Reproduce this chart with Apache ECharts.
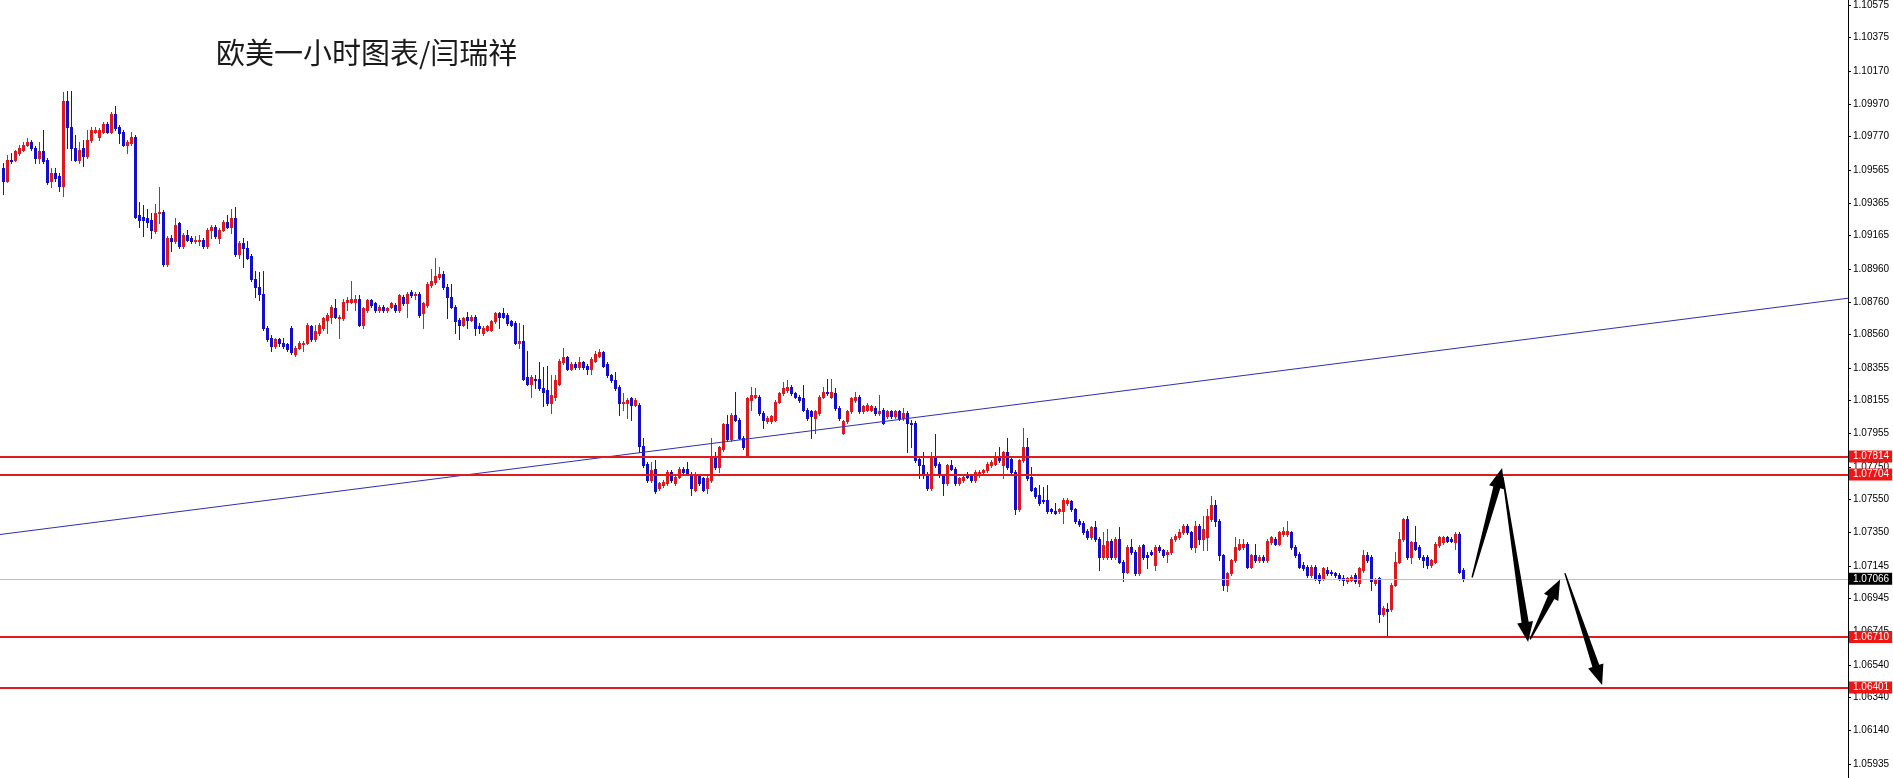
<!DOCTYPE html>
<html>
<head>
<meta charset="utf-8">
<script src="https://cdn.jsdelivr.net/npm/echarts@6/dist/echarts.min.js"></script>
<style>html,body{margin:0;padding:0;background:#fff;}#c{width:1893px;height:778px;}</style>
</head>
<body>
<div id="c"></div>
<script>
// EURUSD H1 candles: [open, close, low, high]
const ohlc = [
[1.0958,1.0950,1.0942,1.0961],[1.0950,1.0963,1.0949,1.0966],[1.0963,1.0962,1.0961,1.0967],[1.0963,1.0968,1.0962,1.0969],
[1.0967,1.0970,1.0966,1.0972],[1.0969,1.0972,1.0968,1.0974],[1.0972,1.0974,1.0971,1.0976],[1.0974,1.0970,1.0969,1.0975],
[1.0970,1.0964,1.0961,1.0971],[1.0964,1.0968,1.0961,1.0974],[1.0968,1.0962,1.0961,1.0981],[1.0963,1.0949,1.0948,1.0964],
[1.0950,1.0955,1.0946,1.0958],[1.0955,1.0952,1.0950,1.0958],[1.0953,1.0947,1.0944,1.0955],[1.0947,1.0999,1.0941,1.1004],
[1.0999,1.0983,1.0970,1.1005],[1.0983,1.0970,1.0963,1.1005],[1.0970,1.0963,1.0962,1.0978],[1.0963,1.0969,1.0961,1.0974],
[1.0970,1.0965,1.0959,1.0975],[1.0965,1.0975,1.0964,1.0981],[1.0975,1.0981,1.0974,1.0983],[1.0980,1.0981,1.0979,1.0983],
[1.0977,1.0981,1.0975,1.0982],[1.0980,1.0985,1.0979,1.0986],[1.0985,1.0980,1.0979,1.0986],[1.0980,1.0991,1.0979,1.0992],
[1.0991,1.0982,1.0981,1.0996],[1.0983,1.0979,1.0973,1.0984],[1.0980,1.0972,1.0971,1.0981],[1.0972,1.0974,1.0967,1.0975],
[1.0973,1.0977,1.0972,1.0980],[1.0977,1.0928,1.0927,1.0978],[1.0929,1.0926,1.0922,1.0937],[1.0928,1.0926,1.0916,1.0935],
[1.0927,1.0925,1.0922,1.0933],[1.0926,1.0920,1.0915,1.0930],[1.0919,1.0930,1.0918,1.0936],[1.0930,1.0931,1.0924,1.0946],
[1.0931,1.0899,1.0898,1.0932],[1.0899,1.0915,1.0898,1.0916],[1.0915,1.0913,1.0907,1.0917],[1.0913,1.0923,1.0912,1.0927],
[1.0924,1.0910,1.0909,1.0925],[1.0910,1.0917,1.0909,1.0918],[1.0917,1.0914,1.0913,1.0920],[1.0915,1.0913,1.0912,1.0916],
[1.0913,1.0914,1.0912,1.0916],[1.0913,1.0914,1.0911,1.0917],[1.0914,1.0910,1.0909,1.0915],[1.0910,1.0920,1.0909,1.0921],
[1.0920,1.0922,1.0915,1.0923],[1.0922,1.0916,1.0915,1.0923],[1.0915,1.0920,1.0912,1.0921],[1.0920,1.0925,1.0919,1.0926],
[1.0925,1.0922,1.0921,1.0929],[1.0922,1.0927,1.0918,1.0933],[1.0927,1.0905,1.0904,1.0934],[1.0905,1.0912,1.0903,1.0913],
[1.0912,1.0909,1.0897,1.0915],[1.0909,1.0903,1.0902,1.0913],[1.0904,1.0890,1.0889,1.0905],[1.0890,1.0885,1.0879,1.0895],
[1.0885,1.0881,1.0877,1.0894],[1.0881,1.0860,1.0859,1.0895],[1.0860,1.0853,1.0852,1.0861],[1.0854,1.0849,1.0846,1.0856],
[1.0849,1.0853,1.0848,1.0854],[1.0853,1.0851,1.0849,1.0854],[1.0851,1.0849,1.0848,1.0854],[1.0850,1.0847,1.0846,1.0851],
[1.0860,1.0845,1.0844,1.0861],[1.0844,1.0848,1.0843,1.0849],[1.0848,1.0851,1.0847,1.0852],[1.0850,1.0851,1.0846,1.0852],
[1.0851,1.0862,1.0850,1.0863],[1.0861,1.0853,1.0852,1.0862],[1.0853,1.0858,1.0852,1.0862],[1.0857,1.0862,1.0856,1.0863],
[1.0860,1.0866,1.0859,1.0867],[1.0865,1.0868,1.0857,1.0869],[1.0867,1.0873,1.0863,1.0874],[1.0872,1.0867,1.0866,1.0878],
[1.0866,1.0867,1.0854,1.0868],[1.0866,1.0876,1.0865,1.0878],[1.0876,1.0877,1.0871,1.0879],[1.0876,1.0878,1.0875,1.0889],
[1.0876,1.0878,1.0871,1.0880],[1.0878,1.0862,1.0861,1.0880],[1.0862,1.0872,1.0860,1.0873],[1.0871,1.0877,1.0870,1.0878],
[1.0877,1.0874,1.0873,1.0878],[1.0875,1.0871,1.0870,1.0876],[1.0871,1.0873,1.0870,1.0874],[1.0873,1.0871,1.0870,1.0874],
[1.0871,1.0872,1.0870,1.0873],[1.0873,1.0875,1.0872,1.0876],[1.0874,1.0871,1.0870,1.0875],[1.0871,1.0880,1.0870,1.0881],
[1.0879,1.0875,1.0874,1.0880],[1.0875,1.0881,1.0867,1.0882],[1.0882,1.0880,1.0879,1.0883],[1.0880,1.0881,1.0878,1.0882],
[1.0881,1.0868,1.0867,1.0882],[1.0869,1.0875,1.0860,1.0876],[1.0874,1.0887,1.0873,1.0888],[1.0886,1.0889,1.0885,1.0896],
[1.0888,1.0892,1.0887,1.0903],[1.0891,1.0893,1.0890,1.0897],[1.0893,1.0885,1.0884,1.0895],[1.0885,1.0879,1.0866,1.0887],
[1.0879,1.0873,1.0872,1.0887],[1.0873,1.0864,1.0857,1.0874],[1.0865,1.0862,1.0853,1.0866],[1.0862,1.0866,1.0861,1.0867],
[1.0867,1.0865,1.0860,1.0870],[1.0865,1.0867,1.0864,1.0868],[1.0867,1.0860,1.0856,1.0868],[1.0861,1.0860,1.0857,1.0863],
[1.0857,1.0860,1.0856,1.0861],[1.0859,1.0861,1.0858,1.0862],[1.0859,1.0864,1.0858,1.0865],[1.0864,1.0869,1.0863,1.0870],
[1.0869,1.0867,1.0860,1.0870],[1.0869,1.0867,1.0866,1.0872],[1.0868,1.0863,1.0862,1.0869],[1.0864,1.0862,1.0861,1.0865],
[1.0863,1.0851,1.0850,1.0864],[1.0851,1.0852,1.0848,1.0863],[1.0852,1.0829,1.0828,1.0862],[1.0830,1.0826,1.0825,1.0846],
[1.0826,1.0830,1.0818,1.0831],[1.0829,1.0828,1.0823,1.0831],[1.0829,1.0823,1.0822,1.0839],[1.0823,1.0821,1.0812,1.0836],
[1.0822,1.0814,1.0813,1.0837],[1.0814,1.0819,1.0808,1.0831],[1.0818,1.0828,1.0816,1.0831],[1.0826,1.0840,1.0825,1.0841],
[1.0839,1.0842,1.0838,1.0848],[1.0842,1.0835,1.0834,1.0843],[1.0835,1.0838,1.0834,1.0839],[1.0838,1.0836,1.0835,1.0839],
[1.0836,1.0839,1.0835,1.0842],[1.0839,1.0836,1.0835,1.0840],[1.0837,1.0835,1.0832,1.0838],[1.0835,1.0841,1.0832,1.0842],
[1.0840,1.0844,1.0839,1.0846],[1.0843,1.0845,1.0842,1.0847],[1.0845,1.0837,1.0836,1.0846],[1.0838,1.0831,1.0830,1.0839],
[1.0831,1.0828,1.0827,1.0832],[1.0828,1.0823,1.0822,1.0833],[1.0824,1.0814,1.0807,1.0825],[1.0814,1.0815,1.0810,1.0820],
[1.0814,1.0816,1.0805,1.0817],[1.0817,1.0813,1.0804,1.0818],[1.0813,1.0816,1.0812,1.0817],[1.0813,1.0788,1.0784,1.0814],
[1.0788,1.0776,1.0775,1.0793],[1.0777,1.0767,1.0766,1.0778],[1.0767,1.0773,1.0766,1.0778],[1.0774,1.0760,1.0759,1.0779],
[1.0762,1.0765,1.0761,1.0766],[1.0764,1.0766,1.0763,1.0767],[1.0765,1.0772,1.0764,1.0773],[1.0772,1.0767,1.0766,1.0773],
[1.0765,1.0769,1.0764,1.0770],[1.0769,1.0774,1.0768,1.0775],[1.0774,1.0772,1.0771,1.0775],[1.0774,1.0771,1.0770,1.0778],
[1.0771,1.0762,1.0758,1.0772],[1.0761,1.0771,1.0760,1.0772],[1.0770,1.0765,1.0764,1.0771],[1.0768,1.0761,1.0760,1.0769],
[1.0762,1.0768,1.0759,1.0771],[1.0767,1.0781,1.0766,1.0793],[1.0781,1.0775,1.0774,1.0784],[1.0775,1.0787,1.0772,1.0788],
[1.0786,1.0801,1.0785,1.0802],[1.0801,1.0792,1.0791,1.0807],[1.0792,1.0807,1.0791,1.0808],[1.0807,1.0804,1.0803,1.0821],
[1.0804,1.0793,1.0792,1.0805],[1.0793,1.0787,1.0786,1.0794],[1.0782,1.0817,1.0781,1.0818],[1.0816,1.0819,1.0810,1.0824],
[1.0818,1.0819,1.0817,1.0823],[1.0818,1.0808,1.0807,1.0819],[1.0808,1.0804,1.0799,1.0809],[1.0803,1.0805,1.0802,1.0806],
[1.0803,1.0806,1.0802,1.0807],[1.0804,1.0815,1.0803,1.0816],[1.0815,1.0820,1.0814,1.0821],[1.0820,1.0823,1.0819,1.0827],
[1.0822,1.0824,1.0821,1.0828],[1.0824,1.0820,1.0819,1.0825],[1.0820,1.0818,1.0817,1.0821],[1.0818,1.0816,1.0815,1.0819],
[1.0817,1.0810,1.0809,1.0825],[1.0810,1.0805,1.0804,1.0811],[1.0809,1.0806,1.0793,1.0810],[1.0805,1.0809,1.0796,1.0810],
[1.0808,1.0818,1.0807,1.0819],[1.0818,1.0821,1.0817,1.0824],[1.0821,1.0820,1.0819,1.0829],[1.0818,1.0821,1.0817,1.0829],
[1.0820,1.0811,1.0810,1.0823],[1.0811,1.0805,1.0804,1.0812],[1.0796,1.0803,1.0795,1.0804],[1.0803,1.0809,1.0802,1.0810],
[1.0809,1.0817,1.0808,1.0818],[1.0816,1.0818,1.0815,1.0821],[1.0818,1.0809,1.0808,1.0819],[1.0809,1.0812,1.0808,1.0813],
[1.0810,1.0813,1.0809,1.0814],[1.0810,1.0812,1.0809,1.0813],[1.0811,1.0808,1.0807,1.0812],[1.0808,1.0809,1.0807,1.0819],
[1.0810,1.0802,1.0801,1.0811],[1.0806,1.0809,1.0805,1.0810],[1.0809,1.0806,1.0805,1.0810],[1.0806,1.0809,1.0805,1.0810],
[1.0809,1.0805,1.0804,1.0810],[1.0805,1.0808,1.0804,1.0811],[1.0808,1.0802,1.0784,1.0809],[1.0802,1.0801,1.0787,1.0804],
[1.0802,1.0779,1.0778,1.0803],[1.0780,1.0776,1.0768,1.0781],[1.0776,1.0771,1.0768,1.0784],[1.0771,1.0762,1.0761,1.0772],
[1.0762,1.0781,1.0761,1.0784],[1.0781,1.0776,1.0775,1.0795],[1.0777,1.0770,1.0769,1.0778],[1.0770,1.0765,1.0758,1.0771],
[1.0765,1.0776,1.0764,1.0777],[1.0776,1.0774,1.0773,1.0779],[1.0774,1.0765,1.0764,1.0775],[1.0765,1.0768,1.0764,1.0769],
[1.0767,1.0769,1.0766,1.0770],[1.0771,1.0769,1.0768,1.0772],[1.0770,1.0767,1.0766,1.0771],[1.0767,1.0772,1.0766,1.0773],
[1.0770,1.0772,1.0769,1.0773],[1.0772,1.0773,1.0771,1.0774],[1.0773,1.0777,1.0772,1.0778],[1.0776,1.0778,1.0775,1.0779],
[1.0777,1.0781,1.0776,1.0784],[1.0782,1.0779,1.0778,1.0787],[1.0776,1.0784,1.0768,1.0785],[1.0784,1.0775,1.0774,1.0793],
[1.0780,1.0772,1.0771,1.0781],[1.0772,1.0749,1.0746,1.0773],[1.0749,1.0779,1.0748,1.0780],[1.0779,1.0787,1.0778,1.0799],
[1.0787,1.0768,1.0767,1.0793],[1.0769,1.0761,1.0760,1.0775],[1.0762,1.0757,1.0756,1.0763],[1.0758,1.0753,1.0752,1.0764],
[1.0755,1.0754,1.0753,1.0763],[1.0755,1.0748,1.0747,1.0764],[1.0749,1.0748,1.0747,1.0750],[1.0748,1.0747,1.0746,1.0753],
[1.0748,1.0749,1.0747,1.0750],[1.0748,1.0755,1.0741,1.0756],[1.0753,1.0755,1.0752,1.0756],[1.0754,1.0749,1.0748,1.0755],
[1.0749,1.0742,1.0741,1.0750],[1.0742,1.0740,1.0739,1.0743],[1.0741,1.0735,1.0734,1.0742],[1.0736,1.0732,1.0731,1.0737],
[1.0732,1.0738,1.0731,1.0739],[1.0738,1.0731,1.0730,1.0742],[1.0731,1.0720,1.0712,1.0732],[1.0720,1.0727,1.0719,1.0735],
[1.0720,1.0730,1.0719,1.0737],[1.0730,1.0720,1.0719,1.0731],[1.0720,1.0731,1.0719,1.0732],[1.0731,1.0717,1.0716,1.0738],
[1.0717,1.0711,1.0705,1.0718],[1.0711,1.0726,1.0710,1.0727],[1.0726,1.0723,1.0722,1.0731],[1.0723,1.0710,1.0709,1.0724],
[1.0710,1.0726,1.0709,1.0727],[1.0727,1.0720,1.0719,1.0728],[1.0721,1.0720,1.0713,1.0723],[1.0723,1.0722,1.0721,1.0724],
[1.0715,1.0726,1.0712,1.0727],[1.0726,1.0724,1.0723,1.0727],[1.0724,1.0721,1.0720,1.0725],[1.0722,1.0723,1.0717,1.0724],
[1.0723,1.0731,1.0722,1.0732],[1.0731,1.0733,1.0730,1.0734],[1.0732,1.0735,1.0731,1.0737],[1.0735,1.0739,1.0734,1.0740],
[1.0739,1.0735,1.0734,1.0740],[1.0735,1.0726,1.0725,1.0736],[1.0726,1.0739,1.0723,1.0742],[1.0739,1.0731,1.0728,1.0740],
[1.0731,1.0737,1.0724,1.0745],[1.0732,1.0745,1.0724,1.0749],[1.0743,1.0752,1.0742,1.0757],[1.0752,1.0742,1.0739,1.0755],
[1.0742,1.0721,1.0718,1.0743],[1.0721,1.0703,1.0700,1.0722],[1.0703,1.0710,1.0699,1.0711],[1.0710,1.0718,1.0709,1.0719],
[1.0718,1.0726,1.0717,1.0732],[1.0725,1.0728,1.0724,1.0731],[1.0726,1.0728,1.0725,1.0731],[1.0728,1.0714,1.0713,1.0729],
[1.0714,1.0721,1.0713,1.0722],[1.0721,1.0718,1.0717,1.0728],[1.0718,1.0720,1.0717,1.0721],[1.0720,1.0718,1.0717,1.0721],
[1.0718,1.0730,1.0717,1.0731],[1.0729,1.0732,1.0728,1.0733],[1.0731,1.0728,1.0727,1.0732],[1.0728,1.0735,1.0727,1.0736],
[1.0734,1.0736,1.0733,1.0738],[1.0734,1.0736,1.0733,1.0742],[1.0735,1.0726,1.0725,1.0736],[1.0726,1.0721,1.0720,1.0727],
[1.0722,1.0714,1.0713,1.0723],[1.0715,1.0713,1.0712,1.0717],[1.0714,1.0709,1.0708,1.0715],[1.0709,1.0714,1.0708,1.0715],
[1.0714,1.0707,1.0706,1.0715],[1.0709,1.0706,1.0704,1.0710],[1.0707,1.0713,1.0706,1.0714],[1.0712,1.0710,1.0709,1.0714],
[1.0711,1.0710,1.0709,1.0712],[1.0710,1.0709,1.0708,1.0711],[1.0709,1.0707,1.0706,1.0710],[1.0707,1.0706,1.0703,1.0709],
[1.0705,1.0707,1.0704,1.0708],[1.0706,1.0708,1.0705,1.0709],[1.0709,1.0705,1.0704,1.0710],[1.0704,1.0713,1.0702,1.0714],
[1.0712,1.0721,1.0711,1.0724],[1.0721,1.0718,1.0717,1.0723],[1.0720,1.0705,1.0700,1.0721],[1.0704,1.0706,1.0703,1.0707],
[1.0707,1.0685,1.0680,1.0708],[1.0685,1.0689,1.0684,1.0690],[1.0688,1.0687,1.0671,1.0692],[1.0688,1.0703,1.0687,1.0704],
[1.0703,1.0717,1.0702,1.0723],[1.0717,1.0731,1.0716,1.0735],[1.0731,1.0743,1.0730,1.0744],[1.0743,1.0720,1.0719,1.0745],
[1.0720,1.0729,1.0716,1.0730],[1.0729,1.0725,1.0724,1.0739],[1.0726,1.0720,1.0719,1.0727],[1.0720,1.0718,1.0714,1.0721],
[1.0720,1.0715,1.0713,1.0721],[1.0715,1.0718,1.0714,1.0719],[1.0717,1.0728,1.0716,1.0729],[1.0727,1.0732,1.0726,1.0733],
[1.0729,1.0732,1.0728,1.0733],[1.0732,1.0730,1.0729,1.0733],[1.0731,1.0730,1.0729,1.0732],[1.0729,1.0734,1.0725,1.0735],
[1.0734,1.0711,1.0710,1.0735],[1.0712,1.07066,1.0705,1.0713]
];

// right price scale tick labels
const tickLabels = [1.10575,1.10375,1.10170,1.09970,1.09770,1.09565,1.09365,1.09165,1.08960,1.08760,1.08560,1.08355,
  1.08155,1.07955,1.07750,1.07550,1.07350,1.07145,1.06945,1.06745,1.06540,1.06340,1.06140,1.05935];

// horizontal levels
const redLevels = [1.07814, 1.07704, 1.06710, 1.06401];
const currentPrice = 1.07066;

// blue trendline prices at the left and right edges of the chart
const trendPrices = [1.07337, 1.08782];

// forecast arrows: from [bar index, price] to [bar index, price]
const arrowFrom = [[367.2, 1.07074], [374.9, 1.07690], [381.7, 1.06696], [390.4, 1.07101]];
const arrowTo   = [[374.7, 1.07743], [381.2, 1.06680], [389.2, 1.07062], [399.7, 1.06417]];

const PRICE_MIN = 1.05848, PRICE_MAX = 1.10604;
const X_MIN = -0.825, X_MAX = 461.175;
const BULL = '#dc1a1c', BEAR = '#1010cc';
const LEVEL_RED = '#e01b1b', BOX_RED = '#f01515';

const chart = echarts.init(document.getElementById('c'), null, {renderer: 'canvas'});

function renderCandle(params, api) {
  const i = api.value(0), o = api.value(1), c = api.value(2), l = api.value(3), h = api.value(4);
  const pO = api.coord([i, o]), pC = api.coord([i, c]), pL = api.coord([i, l]), pH = api.coord([i, h]);
  const cx = Math.round(pO[0] - 0.5);
  const col = c > o ? BULL : BEAR;
  const yT = Math.round(Math.min(pO[1], pC[1])), yB = Math.round(Math.max(pO[1], pC[1]));
  const yH = Math.round(pH[1]), yL = Math.round(pL[1]);
  return {
    type: 'group',
    children: [
      {type: 'rect', shape: {x: cx, y: yH, width: 1, height: Math.max(1, yL - yH + 1)}, style: {fill: col}},
      {type: 'rect', shape: {x: cx - 1, y: yT, width: 3, height: Math.max(1, yB - yT + 1)}, style: {fill: col}}
    ]
  };
}

function renderArrow(params, api) {
  const s = api.coord([api.value(0), api.value(1)]);
  const e = api.coord([api.value(2), api.value(3)]);
  const dx = e[0] - s[0], dy = e[1] - s[1];
  const L = Math.hypot(dx, dy);
  const ux = dx / L, uy = dy / L, nx = -uy, ny = ux;
  const hl = 20, hw = 8, w0 = 0.7, w1 = 3.6;
  const bx = e[0] - ux * hl, by = e[1] - uy * hl;
  const pts = [
    [s[0] + nx * w0, s[1] + ny * w0],
    [bx + nx * w1, by + ny * w1],
    [bx + nx * hw, by + ny * hw],
    [e[0], e[1]],
    [bx - nx * hw, by - ny * hw],
    [bx - nx * w1, by - ny * w1],
    [s[0] - nx * w0, s[1] - ny * w0]
  ];
  return {type: 'polygon', shape: {points: pts}, style: {fill: '#000'}};
}

function levelLine(v, lineColor, width, boxColor) {
  return {
    yAxis: v,
    lineStyle: {color: lineColor, width: width, type: 'solid'},
    label: {
      show: true, position: 'end', distance: 1,
      formatter: v.toFixed(5),
      color: '#fff', backgroundColor: boxColor,
      fontSize: 10, fontFamily: 'Liberation Sans, Arial, sans-serif',
      lineHeight: 11, padding: [1, 3, 0, 4]
    }
  };
}

const option = {
  backgroundColor: '#ffffff',
  animation: false,
  title: {
    text: '欧美一小时图表/闫瑞祥',
    left: 211, top: 33,
    textStyle: {fontSize: 29, fontWeight: 'normal', color: '#1a1a1a', fontFamily: 'Noto Sans CJK SC'}
  },
  grid: {left: 0, right: 45, top: 0, bottom: 0, containLabel: false},
  xAxis: {type: 'value', min: X_MIN, max: X_MAX, show: false},
  yAxis: {
    type: 'value', position: 'right', min: PRICE_MIN, max: PRICE_MAX,
    splitLine: {show: false},
    axisLine: {show: true, onZero: false, lineStyle: {color: '#000', width: 1}},
    axisTick: {show: true, customValues: tickLabels, length: 3, lineStyle: {color: '#000'}},
    axisLabel: {
      customValues: tickLabels, formatter: v => v.toFixed(5),
      color: '#000', fontSize: 10, fontFamily: 'Liberation Sans, Arial, sans-serif', margin: 5
    }
  },
  series: [
    {
      type: 'custom', name: 'EURUSD', z: 2,
      renderItem: renderCandle,
      encode: {x: 0, y: [1, 2, 3, 4]},
      data: ohlc.map((d, i) => [i, d[0], d[1], d[2], d[3]])
    },
    {
      type: 'line', name: 'trend', z: 3, symbol: 'none', silent: true,
      lineStyle: {color: '#2f2fb0', width: 1},
      data: [[X_MIN, trendPrices[0]], [X_MAX, trendPrices[1]]],
      markLine: {
        silent: true, symbol: ['none', 'none'], animation: false, z: 5, precision: 5,
        data: [
          levelLine(currentPrice, '#c0c0c0', 1, '#000000'),
          ...redLevels.map(v => levelLine(v, LEVEL_RED, 2, BOX_RED))
        ]
      }
    },
    {
      type: 'custom', name: 'forecast', z: 6,
      renderItem: renderArrow,
      encode: {x: [0, 2], y: [1, 3]},
      data: arrowFrom.map((f, i) => [f[0], f[1], arrowTo[i][0], arrowTo[i][1]])
    }
  ]
};
chart.setOption(option);
</script>
</body>
</html>
